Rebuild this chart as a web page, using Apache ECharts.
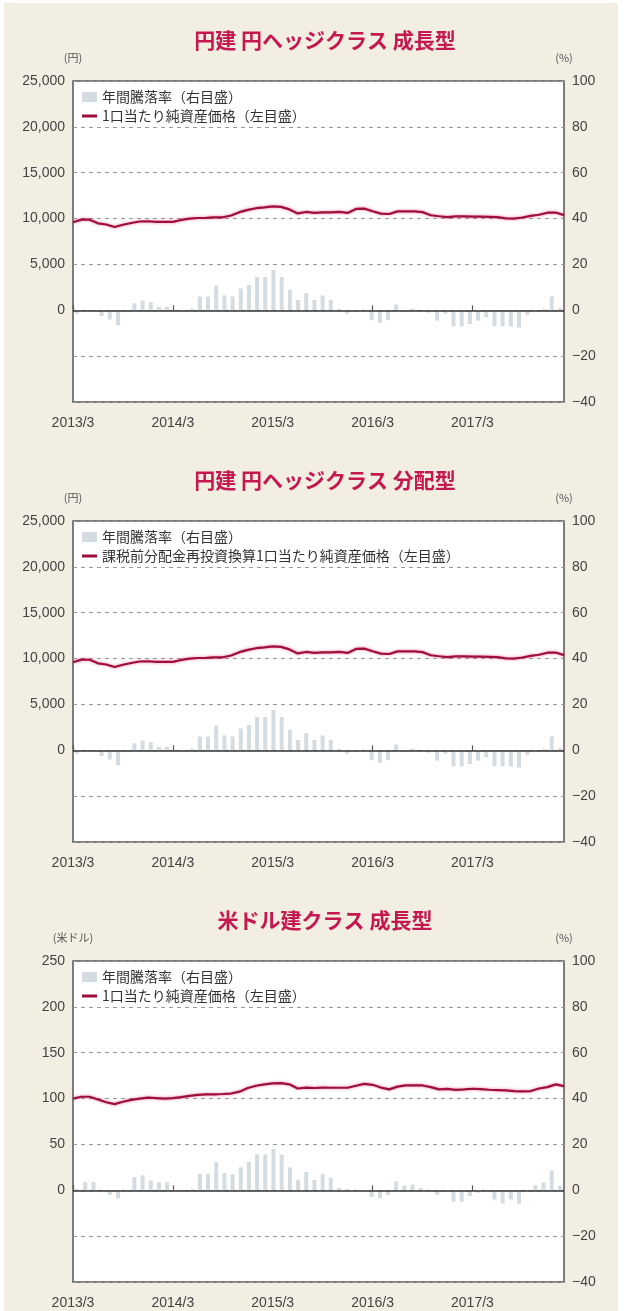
<!DOCTYPE html>
<html>
<head>
<meta charset="utf-8">
<script src="https://cdn.jsdelivr.net/npm/echarts@6/dist/echarts.min.js"></script>
<style>
  html, body { margin: 0; padding: 0; background: #fff; }
  #chart { width: 632px; height: 1311px; }
</style>
</head>
<body>
<div id="chart"></div>
<script>
// 月次カテゴリ 2013/3 〜 2018/2
const months = [
  '2013/3', '2013/4', '2013/5', '2013/6', '2013/7', '2013/8', '2013/9', '2013/10', '2013/11', '2013/12', '2014/1', '2014/2',
  '2014/3', '2014/4', '2014/5', '2014/6', '2014/7', '2014/8', '2014/9', '2014/10', '2014/11', '2014/12', '2015/1', '2015/2',
  '2015/3', '2015/4', '2015/5', '2015/6', '2015/7', '2015/8', '2015/9', '2015/10', '2015/11', '2015/12', '2016/1', '2016/2',
  '2016/3', '2016/4', '2016/5', '2016/6', '2016/7', '2016/8', '2016/9', '2016/10', '2016/11', '2016/12', '2017/1', '2017/2',
  '2017/3', '2017/4', '2017/5', '2017/6', '2017/7', '2017/8', '2017/9', '2017/10', '2017/11', '2017/12', '2018/1', '2018/2',
]

// 円建 円ヘッジクラス 成長型
const navGrowth = [
  9600, 9880, 9880, 9480, 9350, 9080, 9330, 9520, 9680, 9710, 9650, 9640,
  9640, 9850, 9990, 10060, 10070, 10130, 10140, 10330, 10700, 10950, 11130, 11220,
  11320, 11280, 11000, 10560, 10720, 10620, 10680, 10680, 10720, 10620, 11050, 11080,
  10800, 10540, 10500, 10780, 10790, 10790, 10700, 10360, 10250, 10150, 10240, 10250,
  10220, 10220, 10190, 10150, 10020, 10000, 10120, 10300, 10420, 10640, 10660, 10380,
]
const rateGrowth = [
  -1.5, 0.3, -0.3, -2.5, -4, -6.5, -0.5, 3, 4.3, 3.5, 1.5, 1.5,
  0.2, 0.2, 0.7, 6, 6, 10.8, 6.5, 6, 9.5, 11, 14.5, 14.5,
  17.5, 14.5, 9, 4.5, 7.5, 4.5, 6.5, 4.5, 0.5, -1.5, -0.5, 0,
  -4.3, -5.5, -4.3, 2.5, -0.3, 0.7, 0.2, -1, -4.5, -1.5, -7, -7,
  -6, -4.5, -3, -7, -7, -7, -7.5, -2, 0, 0.5, 6, 1,
]

// 円建 円ヘッジクラス 分配型
const navDist = [
  9600, 9880, 9870, 9480, 9350, 9080, 9330, 9520, 9680, 9710, 9650, 9640,
  9640, 9850, 9990, 10060, 10070, 10130, 10140, 10330, 10700, 10950, 11130, 11220,
  11320, 11280, 11000, 10560, 10720, 10620, 10680, 10680, 10720, 10620, 11050, 11080,
  10800, 10540, 10500, 10780, 10790, 10790, 10700, 10360, 10250, 10150, 10240, 10250,
  10220, 10220, 10190, 10150, 10020, 10000, 10120, 10300, 10420, 10640, 10660, 10380,
]
const rateDist = [
  -1.5, 0.3, -0.3, -2.5, -4, -6.5, -0.5, 3, 4.3, 3.5, 1.5, 1.5,
  0.2, 0.2, 0.7, 6, 6, 10.8, 6.5, 6, 9.5, 11, 14.5, 14.5,
  17.5, 14.5, 9, 4.5, 7.5, 4.5, 6.5, 4.5, 0.5, -1.5, -0.5, 0,
  -4.3, -5.5, -4.3, 2.5, -0.3, 0.7, 0.2, -1, -4.5, -1.5, -7, -7,
  -6, -4.5, -3, -7, -7, -7, -7.5, -2, 0, 0.5, 6, 1,
]

// 米ドル建クラス 成長型
const navUsd = [
  100, 102, 102, 99, 96, 94, 96.5, 98.5, 100, 101, 100.5, 100,
  100.5, 101.5, 103, 104, 104.5, 104.6, 105, 105.5, 107.5, 111.5, 114, 115.5,
  116.5, 116.8, 115.5, 111, 112, 111.5, 112, 111.8, 111.8, 111.8, 114, 116,
  115, 112, 110, 113, 114.3, 114.3, 114.3, 112.5, 110, 110.5, 109.5, 110,
  110.7, 110.2, 109.6, 109.3, 109, 108.2, 107.9, 108.2, 111, 112.5, 115.5, 113.5,
]
const rateUsd = [
  0.5, 3.6, 3.6, 0.3, -2, -3.6, 0, 5.8, 6.5, 4.3, 3.5, 3.5,
  0.3, 0.3, 0.5, 7.2, 7.2, 12.3, 7.5, 7, 10, 12.3, 15.7, 15.7,
  18, 15.5, 10, 4.6, 8, 4.5, 7.2, 5.5, 1, 0.5, 0, -0.3,
  -2.9, -3.5, -2, 3.9, 2, 2.5, 1, 0, -2, -0.5, -5, -5,
  -2.5, -1, 0, -4, -5.8, -4, -6, 0, 2.2, 3.5, 8.7, 2,
]

const panels = [
  { title: '円建 円ヘッジクラス 成長型', unit: '(円)', nav: navGrowth, rate: rateGrowth, navName: '1口当たり純資産価格（左目盛）', leftMax: 25000, leftStep: 5000 },
  { title: '円建 円ヘッジクラス 分配型', unit: '(円)', nav: navDist, rate: rateDist, navName: '課税前分配金再投資換算1口当たり純資産価格（左目盛）', leftMax: 25000, leftStep: 5000 },
  { title: '米ドル建クラス 成長型', unit: '(米ドル)', nav: navUsd, rate: rateUsd, navName: '1口当たり純資産価格（左目盛）', leftMax: 250, leftStep: 50 },
]
const rateName = '年間騰落率（右目盛）'

const numFont = '"Liberation Sans Narrow", "Liberation Sans", sans-serif'
const jpFont = '"Noto Sans CJK JP", sans-serif'
const barColor = '#d3dce0'
const lineColor = '#9e0f3c'

const chart = echarts.init(document.getElementById('chart'))

const option = {
  animation: false,
  backgroundColor: '#fff',
  graphic: [
    { type: 'rect', z: -10, shape: { x: 4, y: 3, width: 614, height: 1308 }, style: { fill: '#f3eee2' } },
  ],
  title: [],
  legend: [],
  grid: [],
  xAxis: [],
  yAxis: [],
  series: [],
}

panels.forEach((p, k) => {
  const top = 81 + k * 440
  option.title.push({
    text: p.title,
    left: 320,
    top: top - 56,
    textAlign: 'center',
    textStyle: { color: '#c4184f', fontSize: 21, fontWeight: 'bold', fontFamily: jpFont },
  })
  option.legend.push({
    top: top + 7,
    left: 78,
    orient: 'vertical',
    backgroundColor: '#fff',
    padding: [2, 4],
    itemGap: 5,
    itemWidth: 15,
    itemHeight: 10,
    textStyle: { color: '#333', fontSize: 14, fontFamily: jpFont },
    data: [
      { name: rateName, icon: 'rect' },
      { name: p.navName, icon: 'path://M0 0H15V3H0Z' },
    ],
  })
  option.grid.push({
    left: 73,
    right: 68,
    top: top,
    height: 321,
    show: true,
    backgroundColor: '#fff',
    borderColor: '#555',
    borderWidth: 1.5,
  })
  // 棒グラフ用（中央配置）
  option.xAxis.push({
    gridIndex: k,
    type: 'category',
    position: 'bottom',
    data: months,
    boundaryGap: true,
    axisLine: { show: false },
    axisTick: { show: false },
    axisLabel: { show: false },
  })
  // 折れ線用・目盛表示
  option.xAxis.push({
    gridIndex: k,
    type: 'category',
    position: 'bottom',
    data: months,
    boundaryGap: false,
    axisLine: { show: false },
    axisTick: { show: true, inside: true, length: 5, interval: (i) => i % 12 === 0, lineStyle: { color: '#555', width: 1.2 } },
    axisLabel: {
      interval: (i) => i % 12 === 0,
      margin: 14,
      color: '#444',
      fontSize: 14,
      fontFamily: numFont,
    },
  })
  option.yAxis.push({
    gridIndex: k,
    type: 'value',
    position: 'left',
    min: -p.leftStep * 2,
    max: p.leftMax,
    interval: p.leftStep,
    name: p.unit,
    nameLocation: 'end',
    nameGap: 18,
    nameTextStyle: { color: '#555', fontSize: 11, fontFamily: jpFont },
    axisLine: { show: false },
    axisTick: { show: false },
    splitLine: { show: false },
    axisLabel: {
      margin: 8,
      color: '#444',
      fontSize: 14,
      fontFamily: numFont,
      formatter: (v) => (v < 0 ? '' : String(v).replace(/\B(?=(\d{3})+(?!\d))/g, ',')),
    },
  })
  option.yAxis.push({
    gridIndex: k,
    type: 'value',
    position: 'right',
    min: -40,
    max: 100,
    interval: 20,
    name: '(%)',
    nameLocation: 'end',
    nameGap: 18,
    nameTextStyle: { color: '#555', fontSize: 11, fontFamily: jpFont },
    axisLine: { show: false },
    axisTick: { show: false },
    splitLine: { show: true, lineStyle: { color: '#9a9a9a', type: [4, 4], width: 1 } },
    axisLabel: {
      margin: 8,
      color: '#444',
      fontSize: 14,
      fontFamily: numFont,
      formatter: (v) => (v < 0 ? '\u2212' + Math.abs(v) : String(v)),
    },
  })
  option.series.push({
    name: rateName,
    type: 'bar',
    xAxisIndex: k * 2,
    yAxisIndex: k * 2 + 1,
    barWidth: 4,
    itemStyle: { color: barColor },
    data: p.rate,
    markLine: {
      silent: true,
      symbol: 'none',
      label: { show: false },
      lineStyle: { color: '#333', type: 'solid', width: 1.5 },
      data: [{ yAxis: 0 }],
    },
  })
  option.series.push({
    name: p.navName,
    type: 'line',
    xAxisIndex: k * 2 + 1,
    yAxisIndex: k * 2,
    showSymbol: false,
    color: lineColor,
    z: 5,
    lineStyle: { color: lineColor, width: 2.2, shadowColor: 'rgba(225,70,120,0.7)', shadowBlur: 3 },
    data: p.nav,
  })
})

chart.setOption(option)
</script>
</body>
</html>
